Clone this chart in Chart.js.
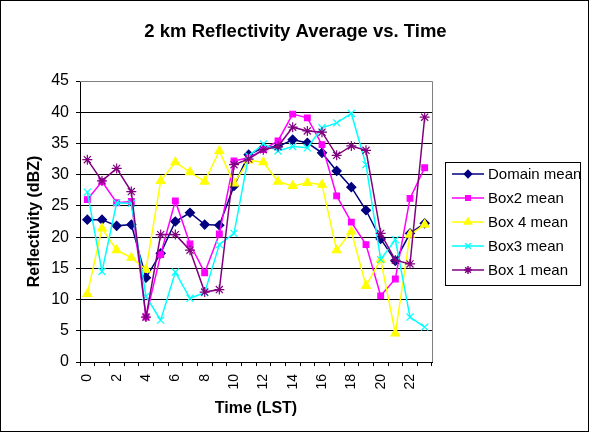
<!DOCTYPE html>
<html>
<head>
<meta charset="utf-8">
<script src="https://cdn.jsdelivr.net/npm/chart.js@4.4.1/dist/chart.umd.min.js"></script>
<style>
  html, body { margin: 0; padding: 0; background: #fff; }
  #frame { width: 589px; height: 432px; box-sizing: border-box; border: 1px solid #000; }
  canvas { display: block; }
</style>
</head>
<body>
<div id="frame"><canvas id="c" width="587" height="430"></canvas></div>
<script>
// hours (LST)
const hours = [0,1,2,3,4,5,6,7,8,9,10,11,12,13,14,15,16,17,18,19,20,21,22,23];

const domainMean = [22.8, 22.8, 21.8, 22.0, 13.5, 17.4, 22.5, 23.9, 22.0, 21.9, 28.2, 33.2,
                    34.3, 34.5, 35.6, 35.1, 33.5, 30.6, 28.0, 24.3, 19.7, 16.2, 20.6, 22.2];
const box2Mean   = [26.0, 28.9, 25.5, 25.7, 7.2, 17.2, 25.8, 18.9, 14.3, 20.5, 32.2, 32.7,
                    34.0, 35.4, 39.7, 39.1, 34.8, 26.6, 22.4, 18.8, 10.6, 13.3, 26.2, 31.1];
const box4Mean   = [10.9, 21.4, 17.9, 16.7, 14.8, 29.0, 32.0, 30.4, 28.9, 33.8, 28.6, 32.3,
                    32.0, 28.9, 28.2, 28.7, 28.4, 17.9, 20.9, 12.2, 16.4, 4.6, 20.4, 22.0];
const box3Mean   = [27.2, 14.5, 25.5, 25.4, 10.5, 6.7, 14.4, 10.2, 11.1, 18.8, 20.6, 33.0,
                    34.9, 33.8, 34.5, 34.3, 37.5, 38.3, 39.8, 31.6, 16.4, 19.6, 7.2, 5.6];
const box1Mean   = [32.4, 29.0, 31.0, 27.3, 7.2, 20.4, 20.4, 17.9, 11.2, 11.6, 31.6, 32.5,
                    34.0, 34.5, 37.6, 37.0, 36.8, 33.1, 34.6, 33.9, 20.6, 16.3, 15.7, 39.2];

const yTicks = [0, 5, 10, 15, 20, 25, 30, 35, 40, 45];

const series = [
  { label: 'Domain mean', data: domainMean, color: '#000080', point: 'rectRot', r: 4.5 },
  { label: 'Box2 mean',   data: box2Mean,   color: '#FF00FF', point: 'rect',    r: 4 },
  { label: 'Box 4 mean',  data: box4Mean,   color: '#FFFF00', point: 'triangle', r: 5 },
  { label: 'Box3 mean',   data: box3Mean,   color: '#00FFFF', point: 'crossRot', r: 5 },
  { label: 'Box 1 mean',  data: box1Mean,   color: '#800080', point: 'star',    r: 5 }
];

const font = "'Liberation Sans', Arial, sans-serif";

// title, gray top/right frame of plot area, legend box
const extras = {
  id: 'extras',
  afterDatasetsDraw(chart) {
    const { ctx, chartArea: a } = chart;
    ctx.save();
    ctx.strokeStyle = '#808080';
    ctx.lineWidth = 1;
    ctx.beginPath();
    ctx.moveTo(a.left, a.top + 0.5);
    ctx.lineTo(a.right + 0.5, a.top + 0.5);
    ctx.lineTo(a.right + 0.5, a.bottom);
    ctx.stroke();

    ctx.fillStyle = '#000';
    ctx.font = 'bold 18.5px ' + font;
    ctx.textAlign = 'center';
    ctx.textBaseline = 'middle';
    ctx.fillText('2 km Reflectivity Average vs. Time', 294.5, 30.5);

    // legend
    const lx = 444, ly = 161, lw = 135, lh = 123;
    ctx.strokeStyle = '#000';
    ctx.strokeRect(lx + 0.5, ly + 0.5, lw, lh);
    ctx.beginPath();
    ctx.rect(lx + 1, ly + 1, lw - 1, lh - 1);
    ctx.clip();
    ctx.font = '15px ' + font;
    ctx.textAlign = 'left';
    series.forEach((s, i) => {
      const y = 173 + i * 24;
      ctx.strokeStyle = s.color;
      ctx.lineWidth = 1.5;
      ctx.beginPath();
      ctx.moveTo(451, y);
      ctx.lineTo(483, y);
      ctx.stroke();
      ctx.fillStyle = s.color;
      Chart.helpers.drawPoint(ctx, { pointStyle: s.point, radius: s.r * 0.8, borderWidth: 1.2 }, 467, y);
      ctx.fillStyle = '#000';
      ctx.fillText(s.label, 487, y + 1);
    });
    ctx.restore();
  }
};

new Chart(document.getElementById('c'), {
  type: 'line',
  data: {
    labels: hours,
    datasets: series.map((s, i) => ({
      label: s.label,
      data: s.data,
      borderColor: s.color,
      backgroundColor: s.color,
      borderWidth: 1.5,
      pointStyle: s.point,
      pointRadius: s.r,
      pointBorderWidth: 1.2,
      tension: 0,
      order: series.length - i
    }))
  },
  options: {
    responsive: false,
    devicePixelRatio: 1,
    animation: false,
    layout: { padding: { left: 0, right: 156, top: 80, bottom: 0 } },
    plugins: {
      legend: { display: false },
      tooltip: { enabled: false },
      title: { display: false }
    },
    scales: {
      x: {
        offset: true,
        afterFit: sc => { sc.height = 69; },
        grid: { offset: true, drawOnChartArea: false, drawTicks: true, tickLength: 4, color: '#000' },
        border: { color: '#000' },
        ticks: {
          autoSkip: false,
          maxRotation: 90,
          minRotation: 90,
          color: '#000',
          font: { family: font, size: 14 },
          padding: 8,
          callback: (v, i) => (hours[i] % 2 === 0 ? String(hours[i]) : '')
        },
        title: {
          display: true,
          text: 'Time (LST)',
          color: '#000',
          font: { family: font, size: 16, weight: 'bold' },
          padding: { top: 0, bottom: 13 }
        }
      },
      y: {
        min: 0,
        max: 45,
        afterFit: sc => { sc.width = 79; },
        afterBuildTicks: sc => { sc.ticks = yTicks.map(v => ({ value: v })); },
        grid: { color: '#000', tickLength: 4, drawTicks: true },
        border: { color: '#000' },
        ticks: { color: '#000', font: { family: font, size: 16 }, padding: 7 },
        title: {
          display: true,
          text: 'Reflectivity (dBZ)',
          color: '#000',
          font: { family: font, size: 16, weight: 'bold' },
          padding: { top: 24, bottom: 0 }
        }
      }
    }
  },
  plugins: [extras]
});
</script>
</body>
</html>
